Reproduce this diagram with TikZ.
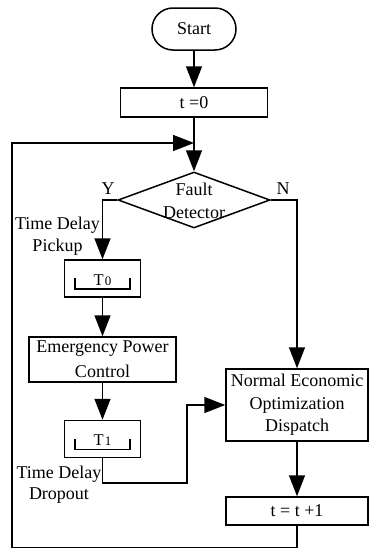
\documentclass[tikz,border=0pt]{standalone}
\usepackage{fontspec}
\setmainfont{Liberation Serif}
\usetikzlibrary{arrows.meta,shapes.geometric}
\begin{document}
\begin{tikzpicture}[x=1pt,y=-1pt,
  line width=1.5pt,
  font=\fontsize{18}{22.5}\selectfont,
  >={Triangle[length=21pt,width=16pt]},
  box/.style={draw,inner sep=0pt,align=center},
  lbl/.style={inner sep=0pt,align=center},
  tlbl/.style={inner sep=0pt,font=\fontsize{16.5}{16}\selectfont}]
\useasboundingbox (0,0) rectangle (370,549);
% nodes
\node[box,rounded corners=21pt,minimum width=84pt,minimum height=42pt] (start) at (194,29) {Start};
\node[box,minimum width=147pt,minimum height=29pt] (t0) at (194,102.5) {t =0};
\node[draw,diamond,inner sep=0pt,minimum width=152pt,minimum height=56pt] (fd) at (194,200) {};
\node[lbl] (fdt) at (194,201) {Fault\\Detector};
\node[box,minimum width=76pt,minimum height=37pt] (T0) at (102.5,278.5) {};
\node[tlbl] (T0t) at (102.5,280) {T\kern1pt{\fontsize{13}{12}\selectfont 0}};
\node[box,minimum width=147pt,minimum height=45pt,font=\fontsize{18}{25}\selectfont] (epc) at (102.5,359.5) {Emergency Power\\Control};
\node[box,minimum width=76pt,minimum height=37pt] (T1) at (102.5,439) {};
\node[tlbl] (T1t) at (102.5,440.5) {T\kern1pt{\fontsize{13}{12}\selectfont 1}};
\node[box,minimum width=142pt,minimum height=72pt] (neo) at (297,405) {Normal Economic\\Optimization\\Dispatch};
\node[box,minimum width=142pt,minimum height=28pt] (tt1) at (297,511) {t = t +1};
\node[lbl] (Y) at (108,189) {Y};
\node[lbl] (N) at (283,189) {N};
\node[lbl,font=\fontsize{18}{22}\selectfont] (pick) at (57.5,236) {Time Delay\\Pickup};
\node[lbl,font=\fontsize{18}{21}\selectfont] (drop) at (59,484.5) {Time Delay\\Dropout};
% brackets
\draw ([shift={(-27.5,-0.5)}]T0.center) -- ++(0,11) -- ++(55,0) -- ++(0,-11);
\draw ([shift={(-27.5,-0.5)}]T1.center) -- ++(0,11) -- ++(55,0) -- ++(0,-11);
% coordinates
\coordinate (join) at (194,143);
\coordinate (yc) at (102.5,200);
\coordinate (nc) at (297,200);
\coordinate (d1) at (102.5,483);
\coordinate (d2) at (187,483);
\coordinate (d3) at (187,405);
\coordinate (l1) at (297,547.5);
\coordinate (l2) at (12,547.5);
\coordinate (l3) at (12,143);
% connectors
\draw[->] (start) -- (t0);
\draw (t0) -- (join);
\draw[->] (join) -- (fd.north);
\draw[->] (fd.west) -- (yc) -- (T0.north);
\draw[->] (fd.east) -- (nc) -- (neo.north);
\draw[->] (T0) -- (epc);
\draw[->] (epc) -- (T1);
\draw[->] (T1.south) -- (d1) -- (d2) -- (d3) -- (neo.west);
\draw[->] (neo) -- (tt1);
\draw[->] (tt1.south) -- (l1) -- (l2) -- (l3) -- (join);
\end{tikzpicture}
\end{document}
